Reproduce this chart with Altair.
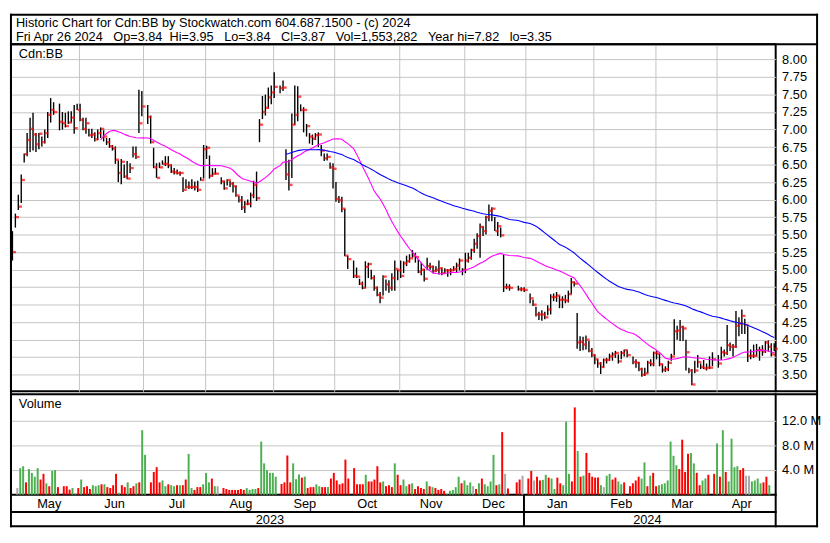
import altair as alt
import pandas as pd

# ---------------- data ----------------
holidays = ["2023-05-22", "2023-07-03", "2023-08-07", "2023-09-04", "2023-10-09",
            "2023-12-25", "2023-12-26", "2024-01-01", "2024-02-19", "2024-03-29"]

close_may = [5.25, 5.75, 5.90, 6.28, 6.65, 6.85, 7.01, 6.93, 6.79, 6.94, 6.82, 6.95, 7.21, 7.28, 7.25, 7.11, 7.09, 7.05, 7.10, 7.17, 7.02, 7.28]
high_may = [5.55, 5.80, 6.07, 6.36, 6.66, 6.95, 7.17, 7.24, 6.95, 6.95, 6.90, 7.00, 7.25, 7.45, 7.39, 7.37, 7.25, 7.24, 7.26, 7.26, 7.35, 7.37]
low_may = [5.13, 5.60, 5.85, 5.95, 6.53, 6.62, 6.68, 6.70, 6.68, 6.72, 6.76, 6.80, 6.88, 7.10, 7.21, 6.99, 7.00, 7.03, 7.08, 7.10, 6.94, 7.28]

close_jun = [7.14, 7.01, 7.09, 6.92, 6.93, 6.86, 6.95, 7.01, 6.90, 6.82, 6.76, 6.73, 6.57, 6.38, 6.54, 6.33, 6.30, 6.45, 6.65, 6.61, 7.09, 7.33]
high_jun = [7.37, 7.17, 7.17, 7.01, 7.01, 6.96, 7.00, 7.03, 6.99, 6.88, 6.88, 6.78, 6.76, 6.56, 6.58, 6.50, 6.55, 6.52, 6.76, 6.76, 7.57, 7.55]
low_jun = [7.12, 6.99, 6.94, 6.90, 6.88, 6.83, 6.85, 6.88, 6.83, 6.78, 6.74, 6.70, 6.51, 6.25, 6.22, 6.31, 6.29, 6.38, 6.60, 6.58, 6.95, 7.19]

close_jul = [7.18, 6.82, 6.46, 6.31, 6.46, 6.51, 6.51, 6.49, 6.40, 6.39, 6.38, 6.38, 6.14, 6.18, 6.18, 6.18, 6.18, 6.14, 6.28, 6.72]
high_jul = [7.35, 7.20, 6.74, 6.52, 6.53, 6.56, 6.62, 6.62, 6.50, 6.45, 6.43, 6.40, 6.32, 6.29, 6.26, 6.29, 6.26, 6.27, 6.32, 6.78]
low_jul = [7.08, 6.80, 6.45, 6.31, 6.45, 6.50, 6.48, 6.45, 6.38, 6.36, 6.36, 6.34, 6.11, 6.16, 6.15, 6.15, 6.13, 6.11, 6.27, 6.30]

close_aug = [6.74, 6.34, 6.37, 6.37, 6.26, 6.16, 6.28, 6.23, 6.19, 6.06, 5.99, 5.89, 5.94, 5.94, 6.06, 6.21, 6.02, 7.07, 7.25, 7.31, 7.46, 7.53]
high_aug = [6.77, 6.63, 6.45, 6.45, 6.32, 6.27, 6.29, 6.27, 6.25, 6.20, 6.05, 6.05, 5.98, 6.00, 6.10, 6.27, 6.40, 7.15, 7.48, 7.50, 7.60, 7.63]
low_aug = [6.58, 6.30, 6.33, 6.36, 6.22, 6.14, 6.20, 6.18, 6.10, 6.04, 5.96, 5.85, 5.81, 5.92, 5.89, 6.02, 5.98, 6.82, 7.15, 7.20, 7.30, 7.36]

close_sep = [7.61, 7.59, 7.60, 6.36, 6.21, 7.07, 7.21, 7.47, 7.28, 7.28, 7.05, 6.90, 6.87, 6.92, 6.93, 6.70, 6.59, 6.61, 6.46, 6.44]
high_sep = [7.82, 7.63, 7.70, 6.72, 6.57, 7.23, 7.63, 7.62, 7.36, 7.32, 7.08, 6.95, 6.93, 6.95, 6.96, 6.78, 6.66, 6.66, 6.53, 6.52]
low_sep = [7.45, 7.52, 7.55, 6.28, 6.13, 6.31, 7.07, 7.12, 7.26, 6.96, 6.90, 6.80, 6.78, 6.85, 6.75, 6.62, 6.55, 6.56, 6.44, 6.16]

close_oct = [6.01, 5.99, 5.87, 5.20, 5.15, 4.91, 4.90, 4.80, 4.74, 5.04, 5.08, 4.88, 4.74, 4.64, 4.60, 4.90, 4.79, 4.74, 4.88, 5.01, 4.99]
high_oct = [6.25, 6.05, 6.04, 5.87, 5.20, 5.13, 5.03, 4.87, 4.83, 5.12, 5.10, 5.00, 4.92, 4.76, 4.68, 4.92, 4.86, 4.85, 4.95, 5.13, 5.00]
low_oct = [5.97, 5.95, 5.82, 5.19, 5.01, 4.88, 4.88, 4.78, 4.72, 4.74, 4.88, 4.86, 4.70, 4.62, 4.52, 4.63, 4.70, 4.67, 4.70, 4.70, 4.85]

close_nov = [4.91, 5.09, 5.12, 5.16, 5.20, 5.18, 4.97, 5.00, 4.87, 5.05, 5.04, 4.98, 5.00, 5.02, 4.95, 4.99, 4.99, 4.99, 5.01, 5.06, 5.13, 5.00]
high_nov = [5.13, 5.12, 5.20, 5.22, 5.28, 5.24, 5.15, 5.10, 5.01, 5.17, 5.10, 5.06, 5.05, 5.13, 5.03, 5.02, 5.01, 5.02, 5.05, 5.10, 5.16, 5.02]
low_nov = [4.88, 4.95, 5.05, 5.10, 5.17, 5.10, 4.95, 4.92, 4.83, 5.00, 5.00, 4.95, 4.97, 4.93, 4.92, 4.94, 4.90, 4.92, 4.98, 4.96, 4.99, 4.92]

close_dec = [5.13, 5.17, 5.28, 5.37, 5.48, 5.61, 5.55, 5.75, 5.84, 5.87, 5.55, 5.62, 5.49, 4.75, 4.75, 4.74, 4.72, 4.72, 4.71]
high_dec = [5.24, 5.24, 5.30, 5.44, 5.52, 5.66, 5.62, 5.77, 5.93, 5.89, 5.75, 5.68, 5.60, 5.21, 4.80, 4.79, 4.77, 4.75, 4.75]
low_dec = [4.95, 5.10, 5.14, 5.24, 5.30, 5.17, 5.48, 5.50, 5.69, 5.69, 5.55, 5.48, 5.46, 4.68, 4.72, 4.70, 4.70, 4.69, 4.68]

close_jan = [4.59, 4.50, 4.36, 4.36, 4.36, 4.32, 4.43, 4.61, 4.61, 4.63, 4.57, 4.57, 4.56, 4.65, 4.82, 4.80, 3.96, 3.97, 3.93, 4.00, 3.84, 3.78]
high_jan = [4.66, 4.57, 4.47, 4.40, 4.42, 4.40, 4.49, 4.65, 4.66, 4.68, 4.63, 4.62, 4.64, 4.70, 4.88, 4.83, 4.38, 4.05, 4.04, 4.06, 3.98, 3.88]
low_jan = [4.52, 4.48, 4.33, 4.28, 4.27, 4.29, 4.35, 4.36, 4.55, 4.54, 4.45, 4.45, 4.52, 4.53, 4.65, 4.76, 3.87, 3.84, 3.85, 3.86, 3.82, 3.75]

close_feb = [3.72, 3.66, 3.61, 3.71, 3.71, 3.76, 3.79, 3.81, 3.69, 3.81, 3.85, 3.78, 3.68, 3.67, 3.58, 3.50, 3.52, 3.67, 3.65, 3.81]
high_feb = [3.79, 3.72, 3.68, 3.73, 3.74, 3.80, 3.82, 3.84, 3.79, 3.84, 3.86, 3.85, 3.76, 3.72, 3.68, 3.60, 3.60, 3.70, 3.72, 3.83]
low_feb = [3.65, 3.60, 3.51, 3.60, 3.66, 3.70, 3.70, 3.74, 3.66, 3.72, 3.76, 3.75, 3.65, 3.60, 3.55, 3.47, 3.48, 3.52, 3.62, 3.62]

close_mar = [3.80, 3.65, 3.57, 3.58, 3.67, 3.76, 4.12, 4.13, 4.18, 4.16, 3.82, 3.56, 3.36, 3.56, 3.68, 3.61, 3.59, 3.60, 3.60, 3.72]
high_mar = [3.84, 3.80, 3.65, 3.62, 3.70, 3.80, 4.29, 4.20, 4.28, 4.20, 4.00, 3.60, 3.58, 3.70, 3.78, 3.66, 3.71, 3.66, 3.76, 3.82]
low_mar = [3.72, 3.62, 3.53, 3.54, 3.55, 3.70, 3.78, 4.00, 3.98, 3.98, 3.56, 3.52, 3.35, 3.52, 3.60, 3.58, 3.58, 3.56, 3.58, 3.62]

close_apr = [3.66, 3.82, 3.81, 3.92, 3.90, 3.90, 4.20, 4.23, 4.34, 4.21, 3.77, 3.77, 3.77, 3.85, 3.85, 3.83, 3.96, 3.90, 3.79, 3.87]
high_apr = [3.78, 3.90, 3.86, 4.21, 3.96, 3.94, 4.41, 4.32, 4.43, 4.30, 4.19, 3.86, 3.93, 3.94, 3.90, 3.92, 3.98, 3.99, 3.95, 3.95]
low_apr = [3.60, 3.71, 3.76, 3.78, 3.84, 3.76, 3.88, 4.05, 4.08, 4.08, 3.68, 3.72, 3.74, 3.76, 3.70, 3.77, 3.81, 3.83, 3.76, 3.84]

# volume in millions, colour: g = up day, r = down day, n = unchanged
vol_may = [1.08, 4.31, 4.62, 2.00, 4.15, 3.54, 2.92, 4.31, 2.46, 3.38, 1.85, 1.38, 3.85, 4.00, 1.23, 1.38, 1.38, 0.82, 1.08, 0.15, 1.08, 2.46]
dir_may = "n g g r g g g g r r g r g g r r r r g g r g"
vol_jun = [1.23, 1.38, 0.92, 1.54, 1.38, 1.54, 1.69, 1.69, 1.23, 1.08, 1.54, 3.38, 0.31, 1.54, 1.23, 2.00, 1.08, 1.38, 1.85, 2.00, 10.46, 6.46]
dir_jun = "r r r g g g r g r r r r g r r g r r g r g g"
vol_jul = [2.00, 3.69, 4.46, 2.00, 2.31, 1.38, 1.69, 1.54, 1.38, 1.54, 1.54, 1.54, 2.46, 6.62, 1.08, 0.77, 1.23, 1.23, 1.69, 3.54]
dir_jul = "r r r r g g r g g r g r r g g r r r g g"
vol_aug = [2.00, 2.62, 1.38, 1.38, 1.08, 0.92, 0.77, 0.77, 0.77, 0.77, 0.92, 0.77, 1.08, 0.77, 0.92, 0.92, 1.08, 8.62, 5.08, 4.00, 3.54, 3.54]
dir_aug = "g r g n r r r r r r r r g g g g r g g g g g"
vol_sep = [2.92, 1.74, 2.00, 6.36, 2.00, 5.08, 2.51, 3.28, 2.77, 2.92, 1.08, 1.23, 1.23, 1.69, 1.38, 1.23, 1.23, 1.23, 2.62, 3.54]
dir_sep = "g r r r r g g g r g r r r g g r r g r r"
vol_oct = [2.31, 1.69, 1.85, 5.69, 2.62, 4.31, 1.69, 1.69, 1.69, 3.23, 2.15, 2.15, 2.46, 4.62, 2.00, 2.15, 1.38, 1.54, 1.23, 5.08, 3.23]
dir_oct = "r r r r r r r r r g r r r r r g r r r g r"
vol_nov = [1.54, 2.46, 1.38, 1.69, 1.85, 0.92, 1.38, 1.08, 0.92, 2.15, 1.38, 1.23, 1.08, 0.77, 0.92, 0.62, 0.08, 0.62, 0.77, 1.23, 2.92, 1.85]
dir_nov = "r g g r g r r r r g r g r r r r g g g g g r"
vol_dec = [2.31, 1.54, 2.00, 1.38, 0.92, 1.85, 2.62, 1.69, 1.38, 2.15, 6.46, 1.54, 1.69, 10.15, 3.38, 1.00, 2.00, 2.46, 3.08]
dir_dec = "g g g n r g r g g g g r g r n r r r n"
vol_jan = [2.62, 3.85, 2.31, 2.92, 2.31, 2.41, 3.23, 2.77, 2.62, 0.92, 2.77, 1.85, 1.54, 11.85, 3.38, 2.15, 14.15, 7.08, 2.92, 3.08, 6.77, 3.54]
dir_jan = "r r n r r g g r g g r r g g g r r g r g r r"
vol_feb = [2.92, 2.77, 2.77, 1.54, 1.23, 3.08, 3.38, 2.46, 2.77, 2.15, 1.69, 2.00, 1.38, 1.85, 2.31, 2.92, 2.62, 5.23, 1.38, 3.08]
dir_feb = "r r r g n g g r r g g r r r r r g g r g"
vol_mar = [3.54, 1.38, 1.54, 1.69, 1.85, 2.31, 8.62, 6.31, 4.77, 4.15, 8.92, 3.69, 6.62, 6.77, 5.08, 3.54, 1.54, 2.31, 2.62, 3.23]
dir_mar = "r r g g g g g g g r r r r g g r r g g r"
vol_apr = [3.38, 8.31, 2.92, 10.46, 3.69, 2.15, 9.08, 4.46, 4.62, 4.00, 4.31, 3.08, 3.08, 2.15, 2.31, 2.62, 1.85, 2.00, 2.92, 1.55]
dir_apr = "r g r g r g g g g r r n n g g g g r r g"

month_names = ["May", "Jun", "Jul", "Aug", "Sep", "Oct", "Nov", "Dec", "Jan", "Feb", "Mar", "Apr"]
year_names = ["2023", "2024"]
price_ticks = [3.50, 3.75, 4.00, 4.25, 4.50, 4.75, 5.00, 5.25, 5.50, 5.75, 6.00, 6.25, 6.50, 6.75, 7.00, 7.25, 7.50, 7.75, 8.00]
vol_ticks = [4, 8, 12]

header1 = "Historic Chart for Cdn:BB by Stockwatch.com 604.687.1500 - (c) 2024"
S = "\u00a0\u00a0\u00a0"
header2 = ("Fri Apr 26 2024" + S + "Op=3.84" + S[:2] + "Hi=3.95" + S + "Lo=3.84" + S + "Cl=3.87" + S
           + "Vol=1,553,282" + S + "Year hi=7.82" + S + "lo=3.35")

# ---------------- table ----------------
closes = close_may + close_jun + close_jul + close_aug + close_sep + close_oct + close_nov + close_dec + close_jan + close_feb + close_mar + close_apr
highs = high_may + high_jun + high_jul + high_aug + high_sep + high_oct + high_nov + high_dec + high_jan + high_feb + high_mar + high_apr
lows = low_may + low_jun + low_jul + low_aug + low_sep + low_oct + low_nov + low_dec + low_jan + low_feb + low_mar + low_apr
vols = vol_may + vol_jun + vol_jul + vol_aug + vol_sep + vol_oct + vol_nov + vol_dec + vol_jan + vol_feb + vol_mar + vol_apr
dirs = " ".join([dir_may, dir_jun, dir_jul, dir_aug, dir_sep, dir_oct, dir_nov, dir_dec, dir_jan, dir_feb, dir_mar, dir_apr]).split()

weekdays = list(pd.bdate_range("2023-05-01", "2024-04-26"))
trading = [d for d in weekdays if d.strftime("%Y-%m-%d") not in holidays]
slot = {d: i for i, d in enumerate(weekdays)}
n = len(trading)
assert len(closes) == n and len(highs) == n and len(lows) == n and len(vols) == n and len(dirs) == n

df = pd.DataFrame({
    "date": [d.strftime("%Y-%m-%d") for d in trading],
    "pos": [slot[d] + 0.5 for d in trading],
    "close": closes, "high": highs, "low": lows, "vol": vols, "dir": dirs,
})

# month boundaries (weekday slots)
starts = []
for i, d in enumerate(weekdays):
    if i == 0 or d.month != weekdays[i - 1].month:
        starts.append(i)
ends = starts[1:] + [len(weekdays)]
months_df = pd.DataFrame({"label": month_names, "mid": [(a + b) / 2 for a, b in zip(starts, ends)]})
jan_start = starts[8]
years_df = pd.DataFrame({"label": year_names, "mid": [jan_start / 2, (jan_start + len(weekdays)) / 2]})
sep_df = pd.DataFrame({"x": [jan_start]})
grid_vals = starts[1:]

# ---------------- layout ----------------
W = 776          # plot width
RX = 818         # right outer border
HP = 352         # price plot height
HV = 102         # volume plot height
GAP = 3
TOP = -30
FONT = "Liberation Sans"

xs = alt.Scale(domain=[0, len(weekdays)], nice=False, zero=False)
xaxis = alt.Axis(values=grid_vals, tickCount=40, grid=True, labels=False, ticks=False, domain=False, title=None)

one = pd.DataFrame({"a": [0]})


def hline(y, x1, x2):
    return alt.Chart(one).mark_rule(color="black", strokeWidth=2, strokeCap="square").encode(
        x=alt.value(x1), x2=alt.value(x2), y=alt.value(y))


def vline(x, y1, y2):
    return alt.Chart(one).mark_rule(color="black", strokeWidth=2, strokeCap="square").encode(
        x=alt.value(x), y=alt.value(y1), y2=alt.value(y2))


def label(txt, x, y, size=13):
    return alt.Chart(pd.DataFrame({"t": [txt]})).mark_text(
        align="left", baseline="alphabetic", font=FONT, fontSize=size, color="black").encode(
        text="t:N", x=alt.value(x), y=alt.value(y))


pscale = alt.Scale(domain=[3.264, 8.217], nice=False, zero=False)
pbase = alt.Chart(df)

hl = pbase.mark_rule(color="black", strokeWidth=1.4).encode(
    x=alt.X("pos:Q", scale=xs, axis=xaxis),
    y=alt.Y("low:Q", scale=pscale, title=None,
            axis=alt.Axis(orient="right", values=price_ticks, tickCount=40, format=".2f", title=None,
                          labelOverlap=False, labelFlush=False)),
    y2="high:Q",
)
ct = pbase.mark_tick(color="#ff0000", orient="horizontal", size=3.2, thickness=2.4, xOffset=2.1).encode(
    x=alt.X("pos:Q", scale=xs, title=None), y=alt.Y("close:Q", scale=pscale, title=None))
ma30 = pbase.transform_window(
    ma="mean(close)", cnt="count()", frame=[-29, 0], sort=[alt.SortField("pos")]
).transform_filter("datum.cnt >= 30").mark_line(color="#ff00ff", strokeWidth=1.1).encode(
    x=alt.X("pos:Q", scale=xs, title=None), y=alt.Y("ma:Q", scale=pscale, title=None))
ma90 = pbase.transform_window(
    ma="mean(close)", cnt="count()", frame=[-89, 0], sort=[alt.SortField("pos")]
).transform_filter("datum.cnt >= 90").mark_line(color="#0000ff", strokeWidth=1.1).encode(
    x=alt.X("pos:Q", scale=xs, title=None), y=alt.Y("ma:Q", scale=pscale, title=None))

price = alt.layer(
    hl, ct, ma30, ma90,
    label("Cdn:BB", 8, 13.5),
    label(header1, 5, -17.6, 12.9),
    label(header2, 5, -3.4, 12.9),
    hline(TOP, 0, RX), hline(0, 0, RX), hline(HP, W, RX),
    vline(0, TOP, HP + GAP), vline(RX, TOP, HP + GAP),
).properties(width=W, height=HP)

vbars = alt.Chart(df).mark_bar(size=2).encode(
    x=alt.X("pos:Q", scale=xs, axis=xaxis),
    y=alt.Y("vol:Q", scale=alt.Scale(domain=[0, 16.3], nice=False), title=None,
            axis=alt.Axis(orient="right", values=vol_ticks, tickCount=40, title=None, labelOverlap=False,
                          labelExpr="format(datum.value, '.1f') + ' M'")),
    color=alt.Color("dir:N", scale=alt.Scale(domain=["g", "r", "n"], range=["#4cb050", "#ff0000", "#a8a8a8"]), legend=None),
)
mtext = alt.Chart(months_df).mark_text(font=FONT, fontSize=13, baseline="alphabetic", color="black").encode(
    x=alt.X("mid:Q", scale=xs, axis=None), y=alt.value(HV + 13), text="label:N")
ytext = alt.Chart(years_df).mark_text(font=FONT, fontSize=13, baseline="alphabetic", color="black").encode(
    x=alt.X("mid:Q", scale=xs, axis=None), y=alt.value(HV + 30), text="label:N")
ysep = alt.Chart(sep_df).mark_rule(color="black", strokeWidth=2).encode(
    x=alt.X("x:Q", scale=xs, axis=None), y=alt.value(HV), y2=alt.value(HV + 32))

volume = alt.layer(
    vbars, mtext, ytext, ysep,
    label("Volume", 8, 14.5),
    hline(0, W, RX), hline(HV + 17.5, 0, W), hline(HV + 32, 0, RX),
    vline(0, 0, HV + 32), vline(RX, 0, HV + 32), vline(W, HV, HV + 32),
).properties(width=W, height=HV)

chart = alt.vconcat(price, volume, spacing=GAP, bounds="flush").properties(
    padding=0, background="white"
).configure_view(
    stroke="black", strokeWidth=2
).configure_axis(
    labelFont=FONT, labelFontSize=13, labelColor="black", labelPadding=6,
    gridColor="#c4c4c4", gridWidth=1, domain=False, ticks=False,
)

chart.save("out.html", embed_options={"renderer": "svg", "actions": False})
